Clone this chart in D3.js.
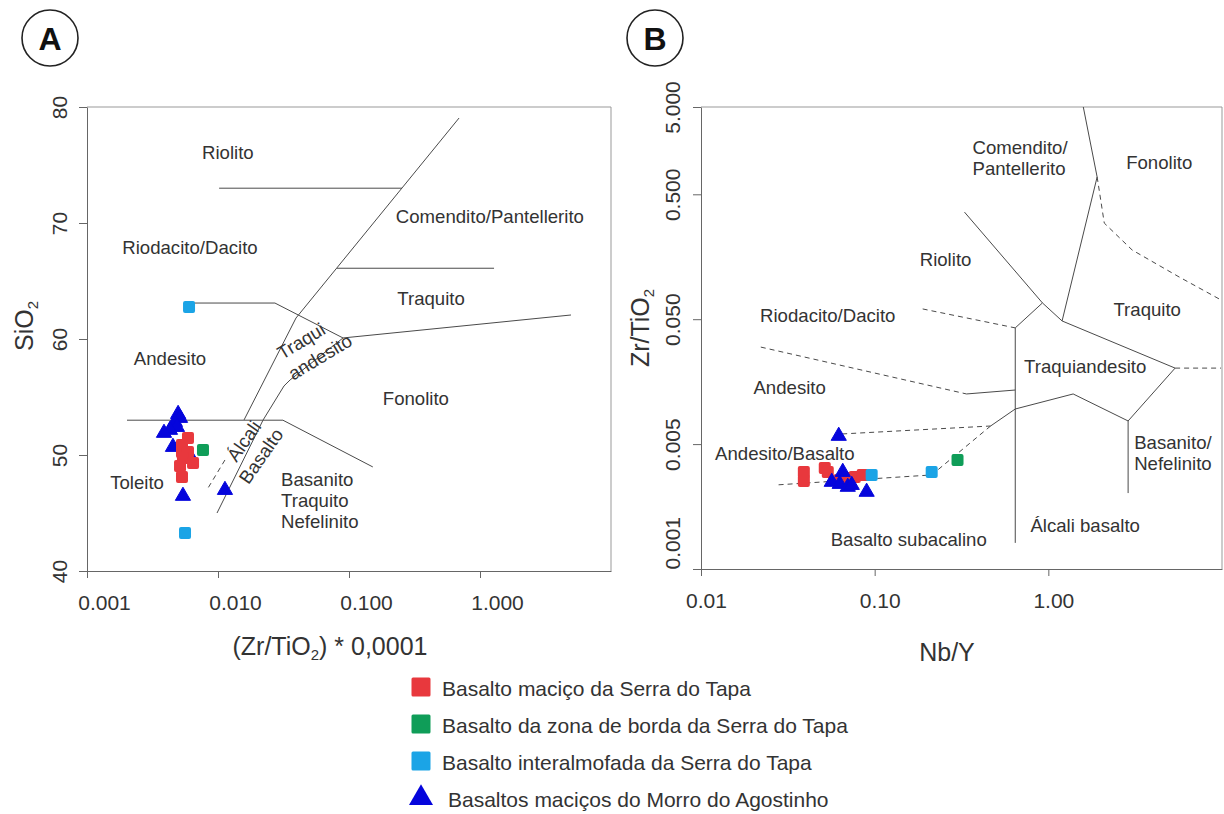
<!DOCTYPE html>
<html>
<head>
<meta charset="utf-8">
<script src="https://cdn.jsdelivr.net/npm/d3@7"></script>
<style>
  body { margin: 0; background: #fff; }
  svg text { font-family: "Liberation Sans", Arial, Helvetica, sans-serif; fill: #333; }
</style>
</head>
<body>
<svg id="chart" width="1224" height="814"></svg>
<script>
// ---------- Panel A: SiO2 vs (Zr/TiO2)*0.0001 ----------
const aXTicks = [0.001, 0.01, 0.1, 1];
const aXTickLabels = ["0.001", "0.010", "0.100", "1.000"];
const aYTicks = [40, 50, 60, 70, 80];

// samples: [Zr/TiO2 * 0.0001, SiO2]
const aMacicoTapa = [[0.00590, 51.47], [0.00531, 50.86], [0.00531, 50.26], [0.00590, 50.26],
                     [0.00540, 49.74], [0.00645, 49.31], [0.00513, 49.05], [0.00531, 48.10]];
const aBordaTapa = [[0.00768, 50.43]];
const aInteralmofada = [[0.00601, 62.76], [0.00560, 43.28]];
const aMorroAgostinho = [[0.00496, 53.53], [0.00513, 53.19], [0.00469, 52.84], [0.00486, 52.41],
                         [0.00430, 52.16], [0.00387, 51.90], [0.00453, 50.69], [0.00611, 49.91],
                         [0.00540, 46.47], [0.0113, 46.98]];

// field boundaries
const aBoundsSolid = [
  [[0.0102, 73.0], [0.254, 73.0]],
  [[0.081, 66.1], [1.28, 66.1]],
  [[0.692, 79.05], [0.0394, 61.81], [0.0158, 53.02]],
  [[0.090, 60.09], [0.0355, 56.47], [0.0319, 55.95], [0.0221, 53.02], [0.00983, 45.0]],
  [[0.00202, 53.0], [0.0313, 53.0], [0.152, 48.97]],
  [[0.0060, 63.1], [0.0272, 63.1], [0.090, 60.09], [4.95, 62.07]]
];
const aBoundsDashed = [
  [[0.0113, 49.57], [0.0084, 47.16]]
];
const aFieldLabels = [
  ["Riolito", 0.0119, 76.12],
  ["Riodacito/Dacito", 0.00611, 67.93],
  ["Comendito/Pantellerito", 1.19, 70.60],
  ["Traquito", 0.423, 63.53],
  ["Andesito", 0.00430, 58.36],
  ["Fonolito", 0.324, 54.91],
  ["Toleito", 0.00241, 47.59]
];
const aFieldLabelsLeft = [
  ["Basanito", 0.0303, 47.93],
  ["Traquito", 0.0303, 46.12],
  ["Nefelinito", 0.0303, 44.31]
];
const aFieldLabelsTilted = [
  ["Traqui", 0.0431, 59.83],
  ["andesito", 0.0601, 58.45],
  ["Álcali", 0.0158, 51.21],
  ["Basalto", 0.0213, 49.91]
];

// ---------- Panel B: Zr/TiO2 vs Nb/Y ----------
const bXTicks = [0.01, 0.1, 1];
const bXTickLabels = ["0.01", "0.10", "1.00"];
const bYTicks = [0.001, 0.005, 0.05, 0.5, 5];
const bYTickLabels = ["0.001", "0.005", "0.050", "0.500", "5.000"];

// samples: [Nb/Y, Zr/TiO2]
const bMacicoTapa = [[0.0391, 0.00349], [0.0391, 0.00311], [0.0516, 0.00367], [0.0537, 0.00349],
                     [0.0629, 0.00315], [0.0718, 0.00323], [0.0768, 0.00327], [0.0853, 0.00336]];
const bBordaTapa = [[0.300, 0.00407]];
const bInteralmofada = [[0.0961, 0.00336], [0.213, 0.00349]];
const bMorroAgostinho = [[0.0621, 0.00581], [0.0566, 0.00307], [0.0655, 0.00349], [0.0629, 0.00299],
                         [0.0700, 0.00288], [0.0738, 0.00295], [0.0899, 0.00270]];

const bBoundsSolid = [
  [[1.59, 5.0], [1.91, 0.79], [1.20, 0.0484]],
  [[0.329, 0.360], [0.925, 0.0675], [1.20, 0.0484]],
  [[0.925, 0.0675], [0.645, 0.0426]],
  [[0.645, 0.0426], [0.645, 0.00140]],
  [[1.20, 0.0484], [5.37, 0.0203], [2.88, 0.00766], [1.39, 0.0126], [0.645, 0.00955], [0.465, 0.00698]],
  [[2.88, 0.00766], [2.88, 0.00266]],
  [[0.338, 0.0126], [0.645, 0.01355]]
];
const bBoundsDashed = [
  [[1.91, 0.79], [2.10, 0.294], [3.04, 0.179], [5.66, 0.109], [9.87, 0.0713]],
  [[0.189, 0.0604], [0.645, 0.0426]],
  [[5.37, 0.0203], [9.87, 0.0203]],
  [[0.0221, 0.0299], [0.338, 0.0126]],
  [[0.465, 0.00698], [0.213, 0.00336], [0.0266, 0.00295]],
  [[0.065, 0.00603], [0.465, 0.00698]]
];
const bFieldLabels = [
  ["Fonolito", 4.35, 1.17],
  ["Riolito", 0.256, 0.149],
  ["Traquito", 3.71, 0.0593],
  ["Riodacito/Dacito", 0.0537, 0.0531],
  ["Traquiandesito", 1.63, 0.0211],
  ["Andesito", 0.0324, 0.0143],
  ["Andesito/Basalto", 0.0304, 0.00441],
  ["Álcali basalto", 1.63, 0.00176],
  ["Basalto subacalino", 0.157, 0.00147]
];
const bFieldLabelsLeft = [
  ["Comendito/", 0.366, 1.70],
  ["Pantellerito", 0.366, 0.975],
  ["Basanito/", 3.12, 0.00511],
  ["Nefelinito", 3.12, 0.00387]
];

const legendNames = [
  "Basalto maciço da Serra do Tapa",
  "Basalto da zona de borda da Serra do Tapa",
  "Basalto interalmofada da Serra do Tapa",
  "Basaltos maciços do Morro do Agostinho"
];

// ---------- drawing ----------
const COLORS = { red: "#e8383d", green: "#0f9d58", cyan: "#1ba4e6", blue: "#0505dc" };
const svg = d3.select("#chart");

const aX = d3.scaleLog().domain([0.001, 10]).range([87, 611]);
const aY = d3.scaleLinear().domain([40, 80]).range([571, 107]);

const bX = d3.scaleLog().domain([0.01, 10]).range([701, 1222]);
// labelled Zr/TiO2 ticks sit one decade apart on the frame, the top one 0.7 decade above
const bYFrame = d3.scaleLog().domain([0.001, 5]).range([569, 107]);
const bYPlaces = [0.001, 0.01, 0.1, 1, 5];
const bY = d3.scaleLog().domain(bYTicks).range(bYPlaces.map(bYFrame));

function frame(g, x, y) {
  const [x0, x1] = x.range(), r = y.range();
  const y0 = r[0], y1 = r[r.length - 1];
  g.append("path")
    .attr("d", `M${x0},${y1}H${x1}V${y0}`)
    .attr("fill", "none").attr("stroke", "#999").attr("stroke-width", 1);
}

function styleAxis(g) {
  g.select(".domain").attr("stroke", "#666");
  g.selectAll(".tick line").attr("stroke", "#666");
  g.selectAll("text").attr("font-size", 21).attr("fill", "#333")
    .attr("font-family", '"Liberation Sans", Arial, sans-serif');
}

function xAxis(g, x, y, ticks, labels, dx) {
  const ax = g.append("g")
    .attr("transform", `translate(0,${y.range()[0]})`)
    .call(d3.axisBottom(x).tickValues(ticks).tickFormat((d, i) => labels[i]).tickSize(7).tickSizeOuter(0));
  styleAxis(ax);
  ax.selectAll("text").attr("y", 32).attr("dy", "0.35em").attr("dx", dx);
}

function yAxis(g, x, y, ticks, labels, off, firstStart) {
  const ax = g.append("g")
    .attr("transform", `translate(${x.range()[0]},0)`)
    .call(d3.axisLeft(y).tickValues(ticks).tickFormat((d, i) => labels ? labels[i] : d).tickSize(8).tickSizeOuter(0));
  styleAxis(ax);
  ax.selectAll("text")
    .attr("x", 0).attr("y", 0).attr("dy", "0.35em")
    .attr("transform", `translate(${off},0) rotate(-90)`)
    .attr("text-anchor", (d, i) => (firstStart && i === 0) ? "start" : "middle");
}

function bounds(g, x, y, lines, dashed) {
  const line = d3.line().x(d => x(d[0])).y(d => y(d[1]));
  g.selectAll(null).data(lines).join("path")
    .attr("d", line)
    .attr("fill", "none")
    .attr("stroke", "#4a4a4a")
    .attr("stroke-width", 1)
    .attr("stroke-dasharray", dashed ? "5,4" : null);
}

function labels(g, x, y, items, anchor) {
  g.selectAll(null).data(items).join("text")
    .attr("x", d => x(d[1])).attr("y", d => y(d[2]))
    .attr("dy", "0.35em")
    .attr("text-anchor", anchor)
    .attr("font-size", 18.6)
    .text(d => d[0]);
}

function squares(g, x, y, pts, color) {
  g.selectAll(null).data(pts).join("rect")
    .attr("x", d => x(d[0]) - 6).attr("y", d => y(d[1]) - 6)
    .attr("width", 12).attr("height", 12).attr("rx", 2)
    .attr("fill", color);
}

function triangles(g, x, y, pts, color) {
  g.selectAll(null).data(pts).join("path")
    .attr("d", d3.symbol(d3.symbolTriangle, 100))
    .attr("transform", d => `translate(${x(d[0])},${y(d[1])})`)
    .attr("fill", color)
    .attr("stroke", color).attr("stroke-width", 1).attr("stroke-linejoin", "round");
}

function panelLetter(cx, cy, letter) {
  svg.append("circle").attr("cx", cx).attr("cy", cy).attr("r", 28)
    .attr("fill", "none").attr("stroke", "#222").attr("stroke-width", 1.6);
  svg.append("text").attr("x", cx).attr("y", cy).attr("dy", "0.36em")
    .attr("text-anchor", "middle").attr("font-size", 32).attr("font-weight", "bold")
    .style("fill", "#111").text(letter);
}

// Panel A
const gA = svg.append("g");
frame(gA, aX, aY);
xAxis(gA, aX, aY, aXTicks, aXTickLabels, 17);
yAxis(gA, aX, aY, aYTicks, null, -27, false);
bounds(gA, aX, aY, aBoundsSolid, false);
bounds(gA, aX, aY, aBoundsDashed, true);
labels(gA, aX, aY, aFieldLabels, "middle");
labels(gA, aX, aY, aFieldLabelsLeft, "start");
const aTilt = { "Traqui": -31, "andesito": -31, "Álcali": -55, "Basalto": -55 };
gA.selectAll(null).data(aFieldLabelsTilted).join("text")
  .attr("transform", d => `translate(${aX(d[1])},${aY(d[2])}) rotate(${aTilt[d[0]]})`)
  .attr("dy", "0.35em").attr("text-anchor", "middle").attr("font-size", 18.6)
  .text(d => d[0]);
triangles(gA, aX, aY, aMorroAgostinho, COLORS.blue);
squares(gA, aX, aY, aMacicoTapa, COLORS.red);
squares(gA, aX, aY, aBordaTapa, COLORS.green);
squares(gA, aX, aY, aInteralmofada, COLORS.cyan);

// axis titles A
const tA = gA.append("text").attr("x", 330).attr("y", 646).attr("dy", "0.35em")
  .attr("text-anchor", "middle").attr("font-size", 25);
tA.append("tspan").text("(Zr/TiO");
tA.append("tspan").attr("font-size", 15).attr("dy", 5).text("2");
tA.append("tspan").attr("dy", -5).text(") * 0,0001");
const yA = gA.append("text").attr("transform", "translate(24,326) rotate(-90)")
  .attr("dy", "0.35em").attr("text-anchor", "middle").attr("font-size", 25);
yA.append("tspan").text("SiO");
yA.append("tspan").attr("font-size", 15).attr("dy", 5).text("2");

// Panel B
const gB = svg.append("g");
frame(gB, bX, bY);
xAxis(gB, bX, bY, bXTicks, bXTickLabels, 5);
yAxis(gB, bX, bY, bYTicks, bYTickLabels, -28, true);
bounds(gB, bX, bY, bBoundsSolid, false);
bounds(gB, bX, bY, bBoundsDashed, true);
labels(gB, bX, bY, bFieldLabels, "middle");
labels(gB, bX, bY, bFieldLabelsLeft, "start");
squares(gB, bX, bY, bMacicoTapa, COLORS.red);
triangles(gB, bX, bY, bMorroAgostinho, COLORS.blue);
squares(gB, bX, bY, bInteralmofada, COLORS.cyan);
squares(gB, bX, bY, bBordaTapa, COLORS.green);

gB.append("text").attr("x", 947).attr("y", 652).attr("dy", "0.35em")
  .attr("text-anchor", "middle").attr("font-size", 25).text("Nb/Y");
const yB = gB.append("text").attr("transform", "translate(640,328) rotate(-90)")
  .attr("dy", "0.35em").attr("text-anchor", "middle").attr("font-size", 25);
yB.append("tspan").text("Zr/TiO");
yB.append("tspan").attr("font-size", 15).attr("dy", 5).text("2");

panelLetter(50, 38, "A");
panelLetter(655, 38, "B");

// legend
const legendColors = [COLORS.red, COLORS.green, COLORS.cyan, COLORS.blue];
const lg = svg.append("g");
const item = lg.selectAll(null).data(legendNames).join("g")
  .attr("transform", (d, i) => `translate(421,${687 + i * 37})`);
item.each(function (d, i) {
  const s = d3.select(this);
  if (i < 3) {
    s.append("rect").attr("x", -9.5).attr("y", -9.5).attr("width", 19).attr("height", 19)
      .attr("rx", 1.5).attr("fill", legendColors[i]);
  } else {
    s.append("path").attr("d", d3.symbol(d3.symbolTriangle, 250)).attr("fill", legendColors[i]);
  }
  s.append("text").attr("x", i < 3 ? 21 : 27).attr("y", 2).attr("dy", "0.35em")
    .attr("font-size", 21).text(d);
});
</script>
</body>
</html>
